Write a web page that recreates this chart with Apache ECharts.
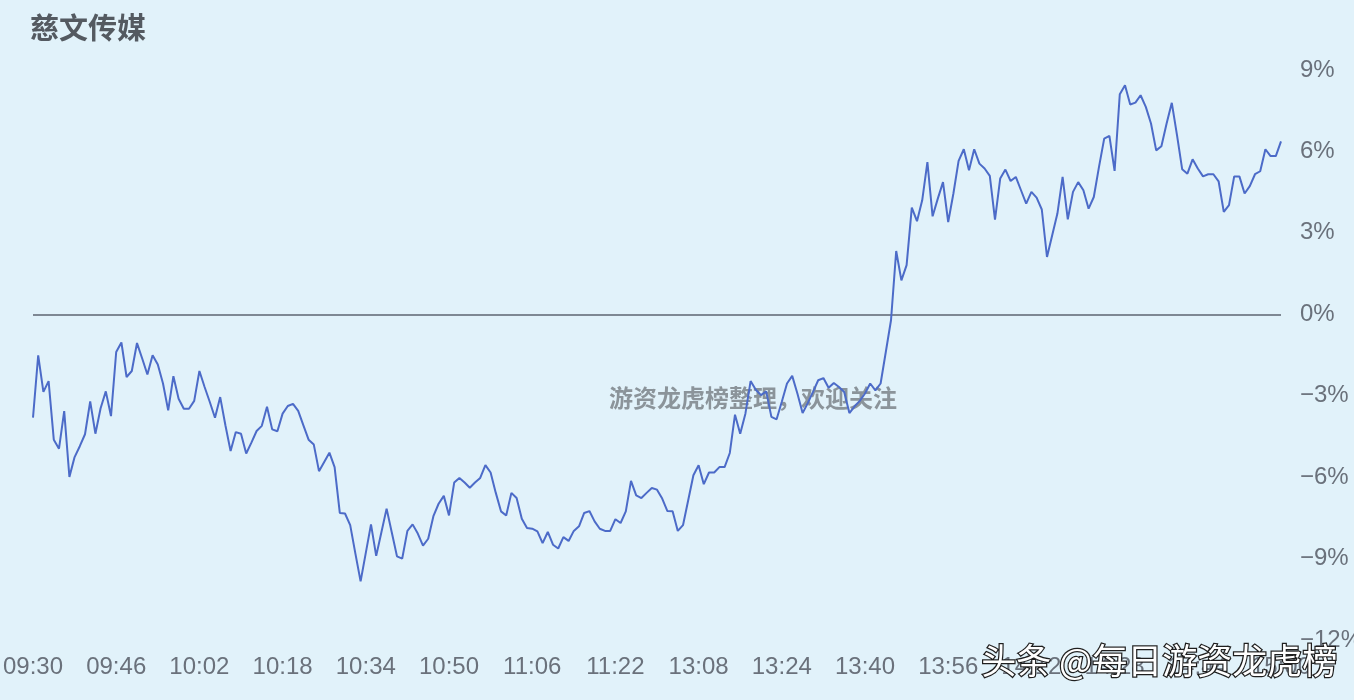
<!DOCTYPE html>
<html>
<head>
<meta charset="utf-8">
<script src="https://cdn.jsdelivr.net/npm/echarts@6/dist/echarts.min.js"></script>
<style>
html,body{margin:0;padding:0;background:#e1f2fa;overflow:hidden;width:1354px;height:700px;}
#chart{width:1354px;height:700px;position:absolute;left:0;top:0;}
</style>
</head>
<body>
<div id="chart"></div>
<script>
// ---- data ----
const titleText = '慈文传媒';
const watermarkText = '游资龙虎榜整理，欢迎关注';
const sourceText = '头条 @每日游资龙虎榜';

// minute times: 09:30-11:30 and 13:01-15:00
function buildTimes() {
  const out = [];
  const pad = n => (n < 10 ? '0' : '') + n;
  for (let m = 9 * 60 + 30; m <= 11 * 60 + 30; m++) out.push(pad(Math.floor(m / 60)) + ':' + pad(m % 60));
  for (let m = 13 * 60 + 1; m <= 15 * 60; m++) out.push(pad(Math.floor(m / 60)) + ':' + pad(m % 60));
  return out;
}
const times = buildTimes();

// percent change, one per minute
const pctChange = [
-3.81,-1.51,-2.86,-2.46,-4.62,-4.95,-3.57,-5.99,-5.26,-4.86,
-4.42,-3.21,-4.40,-3.46,-2.84,-3.75,-1.39,-1.04,-2.31,-2.09,
-1.06,-1.63,-2.22,-1.51,-1.85,-2.55,-3.54,-2.28,-3.11,-3.48,
-3.48,-3.19,-2.09,-2.68,-3.23,-3.81,-3.05,-4.09,-5.04,-4.34,
-4.40,-5.13,-4.73,-4.30,-4.11,-3.41,-4.24,-4.31,-3.66,-3.38,
-3.30,-3.56,-4.09,-4.62,-4.80,-5.78,-5.44,-5.10,-5.63,-7.32,
-7.34,-7.77,-8.82,-9.84,-8.79,-7.74,-8.90,-8.03,-7.16,-8.04,
-8.92,-9.00,-7.98,-7.74,-8.08,-8.52,-8.27,-7.44,-6.98,-6.69,
-7.41,-6.20,-6.03,-6.20,-6.39,-6.20,-6.03,-5.56,-5.83,-6.58,
-7.26,-7.41,-6.58,-6.77,-7.53,-7.87,-7.90,-8.00,-8.43,-8.02,
-8.49,-8.63,-8.21,-8.35,-7.98,-7.81,-7.32,-7.25,-7.63,-7.90,
-7.98,-7.98,-7.55,-7.69,-7.26,-6.14,-6.67,-6.77,-6.58,-6.40,
-6.46,-6.79,-7.25,-7.26,-7.98,-7.77,-6.85,-5.93,-5.56,-6.26,
-5.83,-5.83,-5.63,-5.63,-5.11,-3.70,-4.40,-3.66,-2.46,-2.78,
-2.98,-2.84,-3.78,-3.87,-3.22,-2.55,-2.27,-2.92,-3.64,-3.27,
-2.86,-2.43,-2.35,-2.71,-2.53,-2.68,-2.86,-3.64,-3.39,-3.19,
-2.92,-2.55,-2.80,-2.55,-1.39,-0.22,2.33,1.25,1.81,3.93,
3.43,4.20,5.61,3.61,4.26,4.87,3.40,4.45,5.65,6.08,
5.31,6.08,5.55,5.37,5.10,3.49,5.00,5.33,4.91,5.06,
4.57,4.08,4.51,4.30,3.86,2.11,2.91,3.71,5.06,3.50,
4.51,4.87,4.57,3.89,4.32,5.43,6.47,6.57,5.28,8.11,
8.44,7.73,7.80,8.07,7.64,7.03,6.04,6.19,7.03,7.79,
6.60,5.34,5.18,5.71,5.37,5.08,5.16,5.16,4.90,3.77,
4.02,5.08,5.08,4.45,4.72,5.16,5.27,6.08,5.83,5.83,
6.37
];

const yMin = -12, yMax = 9, yStep = 3;

// ---- chart ----
const chart = echarts.init(document.getElementById('chart'), null, { width: 1354, height: 700 });
const labelColor = '#6a717b';
const fontFam = '"Liberation Sans", Arial, sans-serif';
chart.setOption({
  backgroundColor: '#e1f2fa',
  animation: false,
  title: {
    text: titleText,
    left: 25, top: 8,
    textStyle: { fontSize: 29, fontWeight: 'bold', color: '#545a61', fontFamily: '"Noto Sans CJK SC", sans-serif' }
  },
  grid: { left: 33, right: 73, top: 70, bottom: 60, containLabel: false, outerBoundsMode: 'none' },
  xAxis: {
    type: 'category',
    data: times,
    boundaryGap: false,
    axisLine: { show: false },
    axisTick: { show: false },
    splitLine: { show: false },
    axisLabel: {
      interval: 15,
      margin: 15,
      color: labelColor,
      fontSize: 24,
      fontFamily: fontFam,
      showMinLabel: true,
      showMaxLabel: true
    }
  },
  yAxis: {
    type: 'value',
    position: 'right',
    min: yMin, max: yMax, interval: yStep,
    axisLine: { show: false },
    axisTick: { show: false },
    splitLine: { show: false },
    axisLabel: {
      margin: 19,
      color: labelColor,
      fontSize: 24,
      fontFamily: fontFam,
      formatter: v => (v < 0 ? '\u2212' + Math.abs(v) : String(v)) + '%'
    }
  },
  graphic: [
    {
      type: 'text', z: 0, zlevel: 0,
      left: 609, top: 386,
      style: { text: watermarkText, fill: '#8b949a', font: 'bold 24px "Noto Sans CJK SC", sans-serif' }
    },
    {
      type: 'text', z: 100, zlevel: 1,
      left: 980, top: 642,
      style: {
        text: sourceText, fill: '#ffffff', stroke: '#1f1f1f', lineWidth: 2.5,
        font: '35px "Noto Sans CJK SC", sans-serif'
      }
    }
  ],
  series: [{
    type: 'line',
    data: pctChange,
    showSymbol: false,
    symbol: 'none',
    z: 5,
    lineStyle: { color: '#4c6bc8', width: 2 },
    markLine: {
      silent: true,
      symbol: 'none',
      label: { show: false },
      lineStyle: { color: '#5d6470', width: 1.5, type: 'solid' },
      data: [{ yAxis: 0 }]
    }
  }]
});
</script>
</body>
</html>
